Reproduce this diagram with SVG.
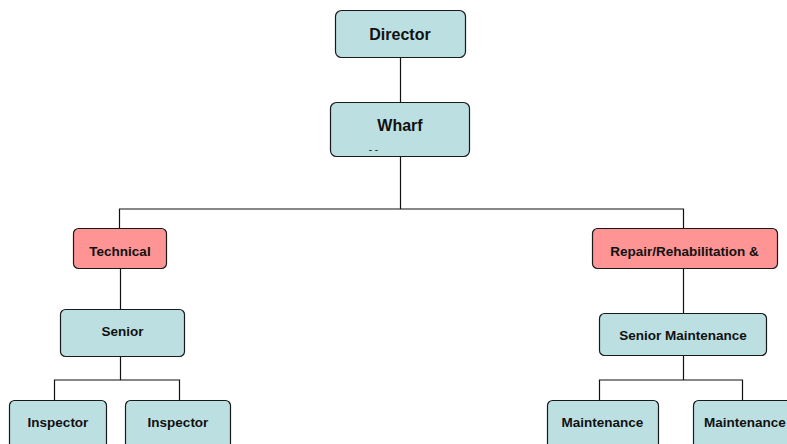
<svg xmlns="http://www.w3.org/2000/svg" width="787" height="444" viewBox="0 0 787 444">
  <style>
    .box { fill: #bce0e2; stroke: #1a1a1a; stroke-width: 1.2; }
    .hot { fill: #ff9494; stroke: #1a1a1a; stroke-width: 1.2; }
    .lbl { font-family: "Liberation Sans", Arial, sans-serif; font-weight: bold; fill: #111; text-anchor: middle; font-size: 13.5px; }
    .big { font-size: 16px; }
    .conn { fill: none; stroke: #111; stroke-width: 1.2; }
  </style>
  <rect width="787" height="444" fill="#ffffff"/>

  <g id="connectors">
    <line class="conn" x1="400.5" y1="58" x2="400.5" y2="102"/>
    <line class="conn" x1="400.5" y1="156" x2="400.5" y2="209"/>
    <polyline class="conn" points="119.5,229 119.5,209 683.5,209 683.5,229"/>
    <line class="conn" x1="120.5" y1="268" x2="120.5" y2="309"/>
    <line class="conn" x1="683.5" y1="268" x2="683.5" y2="313"/>
    <line class="conn" x1="120.5" y1="356" x2="120.5" y2="380"/>
    <polyline class="conn" points="54.5,400 54.5,380 179.5,380 179.5,400"/>
    <line class="conn" x1="683.5" y1="355" x2="683.5" y2="380"/>
    <polyline class="conn" points="599.5,400 599.5,380 742.5,380 742.5,400"/>
  </g>

  <g id="director">
    <rect class="box" x="335.5" y="10.5" width="130" height="47" rx="6"/>
    <text class="lbl big" x="400" y="40">Director</text>
  </g>

  <g id="wharf">
    <rect class="box" x="330.5" y="102.5" width="139" height="54" rx="6"/>
    <text class="lbl big" x="400" y="130.5">Wharf</text>
    <text class="lbl" x="373.5" y="153" style="font-size:10px;font-weight:normal">- -</text>
  </g>

  <g id="technical">
    <rect class="hot" x="73.5" y="228.5" width="93" height="40" rx="5"/>
    <text class="lbl" x="120" y="256">Technical</text>
  </g>

  <g id="repair">
    <rect class="hot" x="592.5" y="228.5" width="185" height="40" rx="5"/>
    <text class="lbl" x="684.5" y="256">Repair/Rehabilitation &amp;</text>
  </g>

  <g id="senior">
    <rect class="box" x="60.5" y="309.5" width="124" height="47" rx="5"/>
    <text class="lbl" x="122.5" y="336">Senior</text>
  </g>

  <g id="senior-maintenance">
    <rect class="box" x="599.5" y="313.5" width="167" height="42" rx="5"/>
    <text class="lbl" x="683" y="340">Senior Maintenance</text>
  </g>

  <g id="inspector-1">
    <rect class="box" x="9.5" y="400.5" width="97" height="48" rx="5"/>
    <text class="lbl" x="58" y="427">Inspector</text>
  </g>

  <g id="inspector-2">
    <rect class="box" x="125.5" y="400.5" width="105" height="48" rx="5"/>
    <text class="lbl" x="178" y="427">Inspector</text>
  </g>

  <g id="maintenance-1">
    <rect class="box" x="547.5" y="400.5" width="111" height="48" rx="5"/>
    <text class="lbl" x="602.5" y="427">Maintenance</text>
  </g>

  <g id="maintenance-2">
    <rect class="box" x="693.5" y="400.5" width="110" height="48" rx="5"/>
    <text class="lbl" x="745" y="427">Maintenance</text>
  </g>
</svg>
